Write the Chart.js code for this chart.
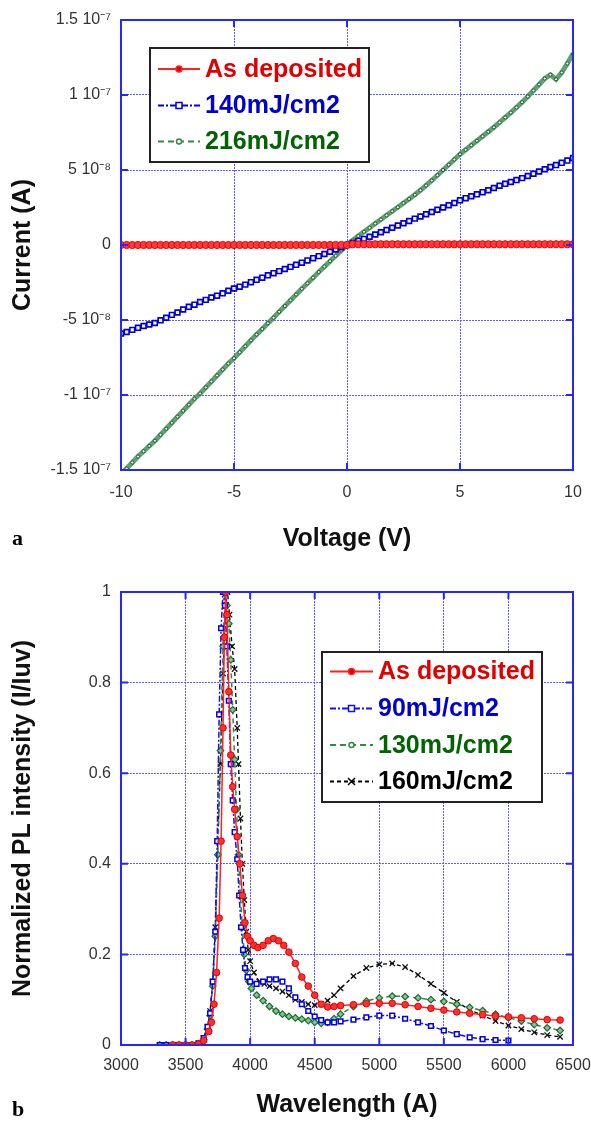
<!DOCTYPE html>
<html><head><meta charset="utf-8">
<script src="https://cdn.jsdelivr.net/npm/chart.js@4.4.1/dist/chart.umd.min.js"></script>
<style>
html,body{margin:0;padding:0;background:#fff;}
#wrap{position:relative;width:591px;height:1124px;overflow:hidden;background:#fff;}
canvas{position:absolute;left:0;}
.panel{position:absolute;left:12px;font:bold 22px "Liberation Serif","Times New Roman",serif;line-height:22px;color:#000;}
</style></head><body>
<div id="wrap">
<canvas id="c1" width="591" height="560" style="top:0px"></canvas>
<canvas id="c2" width="591" height="564" style="top:560px"></canvas>
<div class="panel" style="top:527px">a</div>
<div class="panel" style="top:1098px">b</div>
</div>
<script>
// ---------- Panel a: I-V (current in units of 1e-8 A) ----------
const voltage = [-10,-9.75,-9.5,-9.25,-9,-8.75,-8.5,-8.25,-8,-7.75,-7.5,-7.25,-7,-6.75,-6.5,-6.25,-6,-5.75,-5.5,-5.25,-5,-4.75,-4.5,-4.25,-4,-3.75,-3.5,-3.25,-3,-2.75,-2.5,-2.25,-2,-1.75,-1.5,-1.25,-1,-0.75,-0.5,-0.25,0,0.25,0.5,0.75,1,1.25,1.5,1.75,2,2.25,2.5,2.75,3,3.25,3.5,3.75,4,4.25,4.5,4.75,5,5.25,5.5,5.75,6,6.25,6.5,6.75,7,7.25,7.5,7.75,8,8.25,8.5,8.75,9,9.25,9.5,9.75,10];
const currentAsDeposited = [0,0,0,0,0,0,0,0,0,0,0,0,0,0,0,0,0,0,0,0,0,0,0,0,0,0,0,0,0,0,0,0,0,0,0,0,0,0,0,0,0,0.05,0.05,0.05,0.05,0.05,0.05,0.05,0.05,0.05,0.05,0.05,0.05,0.05,0.05,0.05,0.05,0.05,0.05,0.05,0.05,0.05,0.05,0.05,0.05,0.05,0.05,0.05,0.05,0.05,0.05,0.05,0.05,0.05,0.05,0.05,0.05,0.05,0.05,0.05,0.05];
const current140 = [-5.9,-5.8,-5.66,-5.52,-5.4,-5.3,-5.2,-5.02,-4.85,-4.66,-4.5,-4.3,-4.12,-3.98,-3.8,-3.66,-3.5,-3.38,-3.22,-3.05,-2.9,-2.78,-2.64,-2.48,-2.32,-2.18,-2.02,-1.88,-1.74,-1.6,-1.46,-1.32,-1.18,-1.03,-0.88,-0.74,-0.6,-0.45,-0.3,-0.15,0,0.13,0.27,0.41,0.55,0.7,0.85,1.0,1.15,1.3,1.45,1.6,1.76,1.9,2.05,2.2,2.35,2.5,2.65,2.8,2.98,3.12,3.25,3.38,3.52,3.65,3.8,3.95,4.08,4.2,4.33,4.46,4.6,4.75,4.9,5.05,5.2,5.33,5.48,5.63,5.8];
const current216 = [-15.3,-14.9,-14.5,-14.1,-13.75,-13.4,-13.05,-12.65,-12.25,-11.85,-11.45,-11.05,-10.65,-10.25,-9.9,-9.5,-9.1,-8.7,-8.3,-7.9,-7.55,-7.15,-6.75,-6.35,-5.97,-5.6,-5.22,-4.85,-4.45,-4.07,-3.68,-3.3,-2.92,-2.55,-2.18,-1.8,-1.44,-1.08,-0.72,-0.36,0,0.3,0.6,0.88,1.15,1.43,1.7,1.98,2.25,2.52,2.8,3.07,3.35,3.65,3.97,4.3,4.65,5.0,5.35,5.7,6.05,6.35,6.65,6.95,7.25,7.55,7.85,8.17,8.5,8.83,9.17,9.52,9.9,10.3,10.7,11.1,11.35,11.05,11.5,12.1,12.75];
const voltageTickLabels = ['-10','-5','0','5','10'];
const currentTickLabels = ['-1.5 10\u207B\u2077','-1 10\u207B\u2077','-5 10\u207B\u2078','0','5 10\u207B\u2078','1 10\u207B\u2077','1.5 10\u207B\u2077'];

// ---------- Panel b: PL spectra ----------
const wlAsDeposited = [3400,3450,3500,3550,3600,3640,3680,3700,3720,3740,3760,3775,3790,3800,3810,3820,3835,3850,3865,3880,3900,3920,3940,3960,3980,4000,4030,4060,4100,4140,4180,4220,4260,4300,4350,4400,4450,4500,4550,4600,4650,4700,4800,4900,5000,5100,5200,5300,5400,5500,5600,5700,5800,5900,6000,6100,6200,6300,6400];
const plAsDeposited = [0,0,0,0,0.002,0.01,0.03,0.05,0.09,0.16,0.28,0.45,0.7,0.9,1.0,0.95,0.78,0.64,0.57,0.52,0.46,0.4,0.33,0.27,0.24,0.23,0.22,0.215,0.22,0.23,0.235,0.23,0.22,0.205,0.18,0.15,0.13,0.11,0.09,0.084,0.085,0.087,0.089,0.091,0.092,0.092,0.089,0.085,0.081,0.077,0.073,0.07,0.067,0.064,0.062,0.06,0.058,0.056,0.055];
const wl90 = [3300,3350,3400,3450,3500,3550,3600,3640,3670,3690,3710,3730,3745,3760,3775,3790,3805,3820,3835,3850,3865,3880,3900,3915,3930,3945,3960,3980,4000,4050,4100,4150,4200,4250,4300,4350,4400,4450,4500,4550,4600,4650,4700,4800,4900,5000,5100,5200,5300,5400,5500,5600,5700,5800,5900,6000];
const pl90 = [0,0,0,0,0,0,0.003,0.015,0.04,0.07,0.14,0.25,0.45,0.73,0.92,1.0,0.97,0.88,0.76,0.62,0.54,0.47,0.41,0.33,0.26,0.21,0.17,0.15,0.14,0.135,0.14,0.145,0.145,0.14,0.125,0.105,0.09,0.075,0.063,0.055,0.05,0.05,0.052,0.056,0.061,0.065,0.065,0.058,0.05,0.042,0.032,0.024,0.017,0.013,0.011,0.01];
const wl130 = [3300,3350,3400,3450,3500,3550,3600,3640,3670,3690,3710,3730,3750,3770,3790,3805,3820,3835,3850,3865,3880,3895,3910,3925,3940,3955,3970,3990,4010,4050,4100,4150,4200,4250,4300,4350,4400,4450,4500,4550,4600,4650,4700,4800,4900,5000,5100,5200,5300,5400,5500,5600,5700,5800,5900,6000,6100,6200,6300,6400];
const pl130 = [0,0,0,0,0,0,0.003,0.012,0.035,0.065,0.13,0.24,0.42,0.65,0.88,1.0,0.97,0.93,0.85,0.74,0.63,0.52,0.42,0.33,0.26,0.2,0.165,0.14,0.125,0.11,0.098,0.085,0.075,0.068,0.063,0.06,0.057,0.054,0.05,0.048,0.05,0.058,0.068,0.085,0.097,0.104,0.108,0.107,0.104,0.1,0.096,0.09,0.083,0.076,0.068,0.06,0.053,0.045,0.038,0.032];
const wl160 = [3300,3350,3400,3450,3500,3550,3600,3640,3670,3690,3710,3730,3750,3770,3790,3810,3825,3840,3860,3880,3900,3910,3925,3940,3955,3970,3985,4000,4030,4070,4110,4150,4200,4250,4300,4350,4400,4450,4500,4550,4600,4650,4700,4800,4900,5000,5100,5200,5300,5400,5500,5600,5700,5800,5900,6000,6100,6200,6300,6400];
const pl160 = [0,0,0,0,0,0,0.004,0.015,0.04,0.075,0.14,0.26,0.45,0.62,0.82,0.97,1.0,0.95,0.88,0.83,0.7,0.62,0.5,0.4,0.32,0.25,0.21,0.185,0.16,0.14,0.135,0.13,0.125,0.118,0.11,0.1,0.095,0.09,0.088,0.09,0.098,0.11,0.125,0.152,0.17,0.178,0.18,0.172,0.155,0.135,0.115,0.095,0.078,0.065,0.053,0.043,0.035,0.028,0.022,0.018];
const wavelengthTickLabels = ['3000','3500','4000','4500','5000','5500','6000','6500'];
const plTickLabels = ['0','0.2','0.4','0.6','0.8','1'];

// ---------- helpers ----------
const FONT = '"Liberation Sans", Arial, Helvetica, sans-serif';
const xy = (xs, ys) => xs.map((x, i) => ({x: x, y: ys[i]}));

function drawMarker(ctx, style, x, y, r, fill, stroke, lw) {
  ctx.save();
  ctx.setLineDash([]);
  ctx.lineWidth = lw; ctx.fillStyle = fill; ctx.strokeStyle = stroke;
  ctx.beginPath();
  if (style === 'circle') { ctx.arc(x, y, r, 0, Math.PI * 2); ctx.fill(); ctx.stroke(); }
  else if (style === 'rect') { ctx.rect(x - r, y - r, 2 * r, 2 * r); ctx.fill(); ctx.stroke(); }
  else if (style === 'rectRot') { ctx.moveTo(x, y - r); ctx.lineTo(x + r, y); ctx.lineTo(x, y + r); ctx.lineTo(x - r, y); ctx.closePath(); ctx.fill(); ctx.stroke(); }
  else if (style === 'crossRot') { ctx.moveTo(x - r, y - r); ctx.lineTo(x + r, y + r); ctx.moveTo(x + r, y - r); ctx.lineTo(x - r, y + r); ctx.stroke(); }
  ctx.restore();
}

const frameAndTicks = {
  id: 'frameAndTicks',
  afterDraw(chart) {
    const {ctx, chartArea: a, scales} = chart;
    ctx.save();
    ctx.strokeStyle = '#2626ff'; ctx.lineWidth = 2; ctx.setLineDash([]);
    ctx.beginPath();
    scales.x.ticks.forEach(t => {
      const px = scales.x.getPixelForValue(t.value);
      ctx.moveTo(px, a.bottom); ctx.lineTo(px, a.bottom - 7);
      ctx.moveTo(px, a.top); ctx.lineTo(px, a.top + 7);
    });
    scales.y.ticks.forEach(t => {
      const py = scales.y.getPixelForValue(t.value);
      ctx.moveTo(a.left, py); ctx.lineTo(a.left + 7, py);
      ctx.moveTo(a.right, py); ctx.lineTo(a.right - 7, py);
    });
    ctx.stroke();
    ctx.strokeRect(a.left, a.top, a.right - a.left, a.bottom - a.top);
    ctx.restore();
  }
};

const boxLegend = {
  id: 'boxLegend',
  afterDraw(chart, args, o) {
    if (!o || !o.w) return;
    const ctx = chart.ctx;
    ctx.save();
    ctx.fillStyle = '#fff';
    ctx.fillRect(o.x, o.y, o.w, o.h);
    ctx.lineWidth = 2; ctx.strokeStyle = '#222'; ctx.setLineDash([]);
    ctx.strokeRect(o.x, o.y, o.w, o.h);
    chart.data.datasets.forEach((ds, i) => {
      const y = o.rowY[i];
      ctx.save();
      ctx.strokeStyle = ds.legendLineColor; ctx.lineWidth = 2;
      ctx.setLineDash(ds.legendDash || []);
      ctx.beginPath(); ctx.moveTo(o.lineX0, y); ctx.lineTo(o.lineX1, y); ctx.stroke();
      ctx.restore();
      drawMarker(ctx, ds.legendPointStyle, (o.lineX0 + o.lineX1) / 2, y, ds.legendPointRadius, ds.legendPointFill, ds.legendLineColor, 1.5);
      ctx.fillStyle = ds.legendTextColor;
      ctx.font = 'bold 25px ' + FONT;
      ctx.textBaseline = 'middle'; ctx.textAlign = 'left';
      ctx.fillText(ds.label, o.textX, y + 1);
    });
    ctx.restore();
  }
};

function axisCommon(extra) {
  return Object.assign({
    type: 'linear',
    grid: {color: '#5b5bff', lineWidth: 1, drawTicks: false, tickLength: 0},
    border: {display: false, dash: [2, 1]},
  }, extra);
}
const tickFont = {family: FONT, size: 16};
const titleFont = {family: FONT, size: 25, weight: 'bold'};

// ---------- Chart a ----------
new Chart(document.getElementById('c1'), {
  type: 'line',
  data: {
    datasets: [
      {label: 'As deposited', data: xy(voltage, currentAsDeposited), borderColor: '#ff2020', borderWidth: 2,
       pointStyle: 'circle', pointRadius: 3.6, pointBackgroundColor: '#ff3a3a', pointBorderColor: '#e60000', pointBorderWidth: 1,
       legendLineColor: '#ff2020', legendTextColor: '#e00000', legendPointStyle: 'circle', legendPointRadius: 3, legendPointFill: '#e00000', legendDash: []},
      {label: '140mJ/cm2', data: xy(voltage, current140), borderColor: '#0000e6', borderWidth: 1, borderDash: [6, 2, 2, 2],
       pointStyle: 'rect', pointRadius: 3.4, pointBackgroundColor: 'rgba(255,255,255,0.85)', pointBorderColor: '#0000d0', pointBorderWidth: 1.6,
       legendLineColor: '#0000e0', legendTextColor: '#0000d0', legendPointStyle: 'rect', legendPointRadius: 3, legendPointFill: '#fff', legendDash: [6, 2, 2, 2]},
      {label: '216mJ/cm2', data: xy(voltage, current216), borderColor: 'rgba(80,150,100,0.9)', borderWidth: 5,
       pointStyle: 'circle', pointRadius: 1.6, pointBackgroundColor: '#e8f4ea', pointBorderColor: '#1c5a2a', pointBorderWidth: 1,
       legendLineColor: '#2e8b46', legendTextColor: '#006400', legendPointStyle: 'circle', legendPointRadius: 2.5, legendPointFill: '#fff', legendDash: [6, 4]}
    ]
  },
  options: {
    responsive: false, animation: false, devicePixelRatio: 1,
    layout: {padding: {left: 0, right: 18, top: 20, bottom: 0}},
    plugins: {
      legend: {display: false}, tooltip: {enabled: false},
      boxLegend: {x: 150, y: 48, w: 219, h: 114, rowY: [69, 105.5, 141.5], lineX0: 158, lineX1: 200, textX: 205}
    },
    scales: {
      x: axisCommon({min: -10, max: 10,
        ticks: {stepSize: 5, padding: 13, color: '#333', font: tickFont, maxRotation: 0, autoSkip: false, callback: (v, i) => voltageTickLabels[i]},
        title: {display: true, text: 'Voltage (V)', color: '#111', font: titleFont, padding: {top: 0, bottom: 6}},
        afterFit: s => { s.height = 90; s.paddingLeft = 0; s.paddingRight = 0; }}),
      y: axisCommon({min: -15, max: 15,
        ticks: {stepSize: 5, padding: 10, color: '#333', font: tickFont, autoSkip: false, callback: (v, i) => currentTickLabels[i]},
        title: {display: true, text: 'Current (A)', color: '#111', font: titleFont, padding: {top: 8, bottom: 0}},
        afterFit: s => { s.width = 121; s.paddingTop = 0; s.paddingBottom = 0; }})
    }
  },
  plugins: [frameAndTicks, boxLegend]
});

// ---------- Chart b ----------
new Chart(document.getElementById('c2'), {
  type: 'line',
  data: {
    datasets: [
      {label: 'As deposited', data: xy(wlAsDeposited, plAsDeposited), borderColor: '#ff2020', borderWidth: 1.5,
       pointStyle: 'circle', pointRadius: 3.3, pointBackgroundColor: '#ff3030', pointBorderColor: '#e00000', pointBorderWidth: 1,
       legendLineColor: '#ff2020', legendTextColor: '#e00000', legendPointStyle: 'circle', legendPointRadius: 3, legendPointFill: '#e00000', legendDash: []},
      {label: '90mJ/cm2', data: xy(wl90, pl90), borderColor: '#1010ff', borderWidth: 1.5, borderDash: [6, 2, 2, 2],
       pointStyle: 'rect', pointRadius: 3.3, pointBackgroundColor: '#ffffff', pointBorderColor: '#0000e0', pointBorderWidth: 1.5,
       legendLineColor: '#1010ff', legendTextColor: '#0000d0', legendPointStyle: 'rect', legendPointRadius: 3, legendPointFill: '#fff', legendDash: [6, 2, 2, 2]},
      {label: '130mJ/cm2', data: xy(wl130, pl130), borderColor: '#2e8b46', borderWidth: 1.5, borderDash: [5, 4],
       pointStyle: 'rectRot', pointRadius: 3.3, pointBackgroundColor: '#86c494', pointBorderColor: '#1d6b30', pointBorderWidth: 1.2,
       legendLineColor: '#2e8b46', legendTextColor: '#006400', legendPointStyle: 'circle', legendPointRadius: 2.5, legendPointFill: '#fff', legendDash: [6, 4]},
      {label: '160mJ/cm2', data: xy(wl160, pl160), borderColor: '#000000', borderWidth: 1.3, borderDash: [4, 3],
       pointStyle: 'crossRot', pointRadius: 3.8, pointBackgroundColor: '#000', pointBorderColor: '#111', pointBorderWidth: 1.3,
       legendLineColor: '#000000', legendTextColor: '#000000', legendPointStyle: 'crossRot', legendPointRadius: 3.5, legendPointFill: '#000', legendDash: [4, 3]}
    ]
  },
  options: {
    responsive: false, animation: false, devicePixelRatio: 1,
    layout: {padding: {left: 0, right: 18, top: 32, bottom: 0}},
    plugins: {
      legend: {display: false}, tooltip: {enabled: false},
      boxLegend: {x: 322, y: 92, w: 220, h: 150, rowY: [111.5, 148.5, 185, 221.5], lineX0: 330, lineX1: 373, textX: 378}
    },
    scales: {
      x: axisCommon({min: 3000, max: 6500,
        ticks: {stepSize: 500, padding: 11, color: '#333', font: tickFont, maxRotation: 0, autoSkip: false, callback: (v, i) => wavelengthTickLabels[i]},
        title: {display: true, text: 'Wavelength (A)', color: '#111', font: titleFont, padding: {top: 0, bottom: 4}},
        afterFit: s => { s.height = 79; s.paddingLeft = 0; s.paddingRight = 0; }}),
      y: axisCommon({min: 0, max: 1,
        ticks: {stepSize: 0.2, padding: 10, color: '#333', font: tickFont, autoSkip: false, callback: (v, i) => plTickLabels[i]},
        title: {display: true, text: 'Normalized PL intensity (I/Iuv)', color: '#111', font: titleFont, padding: {top: 8, bottom: 0}},
        afterFit: s => { s.width = 121; s.paddingTop = 0; s.paddingBottom = 0; }})
    }
  },
  plugins: [frameAndTicks, boxLegend]
});
</script>
</body></html>
